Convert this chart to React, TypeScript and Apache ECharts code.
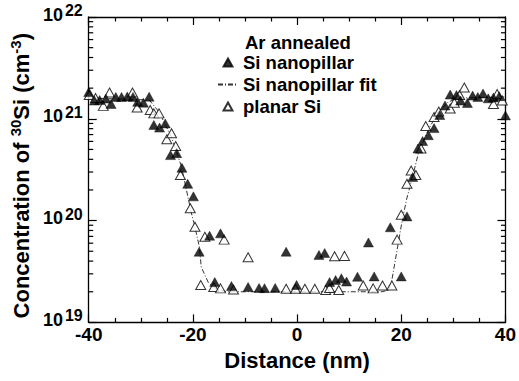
import React, { useEffect, useRef } from "react";
import * as echarts from "echarts";

const xTicks = [-40, -20, 0, 20, 40];
const yDecades = [1e19, 1e20, 1e21, 1e22];

const nanopillar: number[][] = [
  [-40.0, 1.83e21], [-38.9, 1.51e21], [-37.9, 1.53e21], [-36.7, 1.58e21], [-35.7, 1.4e21],
  [-34.8, 1.64e21], [-33.7, 1.64e21], [-32.6, 1.66e21], [-31.5, 1.64e21], [-30.6, 1.47e21],
  [-29.5, 1.44e21], [-28.4, 1.65e21], [-27.5, 8.7e20], [-26.4, 8.2e20], [-25.3, 9.0e20],
  [-24.3, 4.4e20], [-23.1, 4.6e20], [-22.1, 3.3e20], [-21.0, 2.3e20], [-19.9, 1.73e20],
  [-18.8, 4.95e19], [-16.8, 7.1e19], [-14.7, 7.5e19], [-15.8, 2.49e19], [-12.6, 2.28e19],
  [-9.4, 2.23e19], [-7.3, 2.18e19], [-6.25, 2.17e19], [-4.2, 2.18e19], [-2.1, 4.95e19],
  [-0.1, 2.33e19], [4.2, 4.6e19], [5.3, 4.8e19], [6.25, 2.49e19], [7.4, 2.61e19],
  [8.5, 2.71e19], [9.5, 2.52e19], [11.6, 2.81e19], [13.7, 6.1e19], [14.8, 2.83e19],
  [17.9, 8.6e19], [20.0, 2.83e19], [21.1, 1.1e20], [22.2, 2.68e20], [23.2, 5.1e20],
  [24.1, 6.05e20], [25.2, 6.9e20], [26.3, 8.1e20], [27.4, 1.09e21], [28.4, 1.35e21],
  [29.4, 1.73e21], [30.6, 1.71e21], [31.4, 1.51e21], [32.7, 1.43e21], [33.7, 1.69e21],
  [34.7, 1.64e21], [35.7, 1.77e21], [36.7, 1.59e21], [37.7, 1.62e21], [38.8, 1.67e21],
  [40.0, 1.08e21],
];

const planar: number[][] = [
  [-39.9, 1.71e21], [-38.7, 1.6e21], [-37.2, 1.34e21], [-36.0, 1.81e21], [-31.6, 1.81e21],
  [-30.7, 1.29e21], [-28.2, 1.22e21], [-27.5, 1.13e21], [-26.5, 1.13e21], [-25.0, 6.3e20],
  [-24.1, 7.2e20], [-23.3, 5.4e20], [-22.4, 2.8e20], [-20.5, 1.32e20], [-19.6, 8.7e19],
  [-18.5, 2.33e19], [-17.7, 6.95e19], [-16.0, 2.23e19], [-14.7, 2.16e19], [-14.0, 6.5e19],
  [-12.2, 2.1e19], [-9.4, 4.37e19], [-2.1, 2.14e19], [-0.3, 2.14e19], [1.5, 2.14e19],
  [3.4, 2.14e19], [5.5, 2.08e19], [6.25, 2.18e19], [7.2, 4.46e19], [9.1, 4.5e19],
  [8.0, 2.08e19], [12.7, 2.3e19], [14.6, 2.16e19], [16.4, 2.3e19], [18.2, 2.3e19],
  [19.2, 6.5e19], [20.0, 1.14e20], [21.1, 2.3e20], [21.9, 3.1e20], [22.8, 2.8e20],
  [23.8, 5.1e20], [24.7, 8.5e20], [26.3, 1.04e21], [27.2, 1.18e21], [29.4, 1.26e21],
  [30.2, 1.44e21], [31.2, 1.71e21], [32.1, 2.03e21], [37.7, 1.4e21], [38.4, 1.75e21],
  [39.4, 1.51e21],
];

const fit: number[][] = [
  [-40, 1.6e21], [-28.4, 1.53e21], [-26.5, 1.17e21], [-24.1, 6.6e20], [-22.2, 3.4e20],
  [-20.3, 1.19e20], [-19.7, 9.1e19], [-18.75, 5.5e19], [-18.4, 3.5e19], [-17.0, 2.44e19],
  [-15.2, 2.08e19], [-13.3, 2.0e19], [16.3, 2.0e19], [17.6, 2.08e19], [18.2, 2.61e19],
  [19.1, 4.8e19], [20.1, 9.5e19], [21.0, 1.6e20], [22.0, 2.5e20], [23.3, 4.6e20],
  [25.2, 7.8e20], [27.1, 1.17e21], [29.0, 1.46e21], [30.9, 1.6e21], [40, 1.64e21],
];

const minorMultipliers = [2, 3, 4, 5, 6, 7, 8, 9];

const FONT = "Liberation Sans";
const TRI_ICON = "path://M5,0L10,9L0,9Z";

export default function App() {
  const ref = useRef<HTMLDivElement>(null);
  useEffect(() => {
    if (!ref.current) return;
    const chart = echarts.init(ref.current, undefined, { renderer: "svg" });
    const minorTicks: number[][] = [];
    for (let i = 0; i < yDecades.length - 1; i++) {
      for (const m of minorMultipliers) minorTicks.push([-40, m * yDecades[i]]);
    }
    const axisLine = { show: true, onZero: false, lineStyle: { color: "#000", width: 1.3 } };
    const tickStyle = { color: "#000", width: 1.2 };
    const yMin = yDecades[0];
    const yMax = yDecades[yDecades.length - 1];
    chart.setOption({
      animation: false,
      backgroundColor: "#fff",
      textStyle: { fontFamily: FONT },
      grid: { left: 86, right: 10.5, top: 17, bottom: 58.6 },
      legend: {
        orient: "vertical",
        left: 212,
        top: 48,
        itemWidth: 20,
        itemHeight: 8,
        itemGap: 3,
        symbolKeepAspect: true,
        textStyle: { fontFamily: FONT, fontWeight: "bold", fontSize: 18.5, color: "#000" },
        data: [
          { name: "Si nanopillar", icon: TRI_ICON },
          { name: "Si nanopillar fit", itemStyle: { opacity: 0 } },
          { name: "planar Si", icon: TRI_ICON },
        ],
      },
      graphic: [
        {
          type: "text",
          left: 245,
          top: 33,
          style: { text: "Ar annealed", fontFamily: FONT, fontWeight: "bold", fontSize: 18.5, fill: "#000" },
        },
      ],
      xAxis: [
        {
          type: "value",
          min: xTicks[0],
          max: xTicks[xTicks.length - 1],
          interval: 20,
          position: "bottom",
          axisLine,
          axisTick: { inside: true, length: 8, lineStyle: tickStyle },
          minorTick: { show: true, splitNumber: 4, length: 4.5, lineStyle: tickStyle },
          splitLine: { show: false },
          axisLabel: { margin: 3, color: "#000", fontFamily: FONT, fontWeight: "bold", fontSize: 19 },
          name: "Distance (nm)",
          nameLocation: "middle",
          nameGap: 17,
          nameTextStyle: { color: "#000", fontFamily: FONT, fontWeight: "bold", fontSize: 22, verticalAlign: "top" },
        },
        {
          type: "value",
          min: xTicks[0],
          max: xTicks[xTicks.length - 1],
          interval: 20,
          position: "top",
          axisLine,
          axisTick: { inside: true, length: 8, lineStyle: tickStyle },
          minorTick: { show: true, splitNumber: 4, length: 4.5, lineStyle: tickStyle },
          splitLine: { show: false },
          axisLabel: { show: false },
        },
      ],
      yAxis: [
        {
          type: "log",
          logBase: 10,
          min: yMin,
          max: yMax,
          position: "left",
          axisLine,
          axisTick: { inside: true, length: 8, lineStyle: tickStyle },
          splitLine: { show: false },
          axisLabel: {
            margin: 6,
            padding: [0, 0, 8, 0],
            formatter: (v: number) => `{b|10}{s|${Math.round(Math.log10(v))}}`,
            rich: {
              b: { fontFamily: FONT, fontWeight: "bold", fontSize: 18, color: "#000", verticalAlign: "bottom" },
              s: { fontFamily: FONT, fontWeight: "bold", fontSize: 16, color: "#000", verticalAlign: "bottom", padding: [0, 0, 5, 2] },
            },
          },
          name: "{n|Concentration of }{s|30}{n|Si (cm}{s|-3}{n|)}",
          nameLocation: "middle",
          nameGap: 52,
          nameTextStyle: {
            padding: [0, 12, 0, 0],
            rich: {
              n: { fontFamily: FONT, fontWeight: "bold", fontSize: 22, color: "#000", verticalAlign: "bottom" },
              s: { fontFamily: FONT, fontWeight: "bold", fontSize: 15, color: "#000", verticalAlign: "bottom", padding: [0, 0, 9, 0] },
            },
          },
        },
        {
          type: "log",
          logBase: 10,
          min: yMin,
          max: yMax,
          position: "right",
          axisLine,
          axisTick: { inside: true, length: 8, lineStyle: tickStyle },
          splitLine: { show: false },
          axisLabel: { show: false },
        },
      ],
      series: [
        {
          type: "custom",
          name: "minorTicks",
          silent: true,
          xAxisIndex: 0,
          yAxisIndex: 0,
          clip: false,
          data: minorTicks,
          renderItem: (params: any, api: any) => {
            const v = api.value(1);
            const pl = api.coord([xTicks[0], v]);
            const pr = api.coord([xTicks[xTicks.length - 1], v]);
            return {
              type: "group",
              children: [
                { type: "line", shape: { x1: pl[0], y1: pl[1], x2: pl[0] + 4.5, y2: pl[1] }, style: { stroke: "#000", lineWidth: 1.2 } },
                { type: "line", shape: { x1: pr[0] - 4.5, y1: pr[1], x2: pr[0], y2: pr[1] }, style: { stroke: "#000", lineWidth: 1.2 } },
              ],
            };
          },
        },
        {
          type: "line",
          name: "Si nanopillar fit",
          data: fit,
          symbol: "none",
          showSymbol: false,
          lineStyle: { color: "#333", width: 1, type: [5, 2, 1, 2] },
          itemStyle: { color: "#333" },
          z: 2,
        },
        {
          type: "scatter",
          name: "planar Si",
          data: planar,
          symbol: "triangle",
          symbolSize: [10, 9],
          clip: false,
          itemStyle: { color: "#fff", borderColor: "#000", borderWidth: 1 },
          z: 3,
        },
        {
          type: "scatter",
          name: "Si nanopillar",
          data: nanopillar,
          symbol: "triangle",
          symbolSize: [10, 9],
          clip: false,
          itemStyle: { color: "#000", borderColor: "#000", borderWidth: 0.5 },
          z: 4,
        },
      ],
    });
    return () => chart.dispose();
  }, []);
  return (
    <div
      ref={ref}
      style={{ position: "absolute", left: 0, top: 0, width: 519, height: 381, background: "#fff" }}
    />
  );
}
